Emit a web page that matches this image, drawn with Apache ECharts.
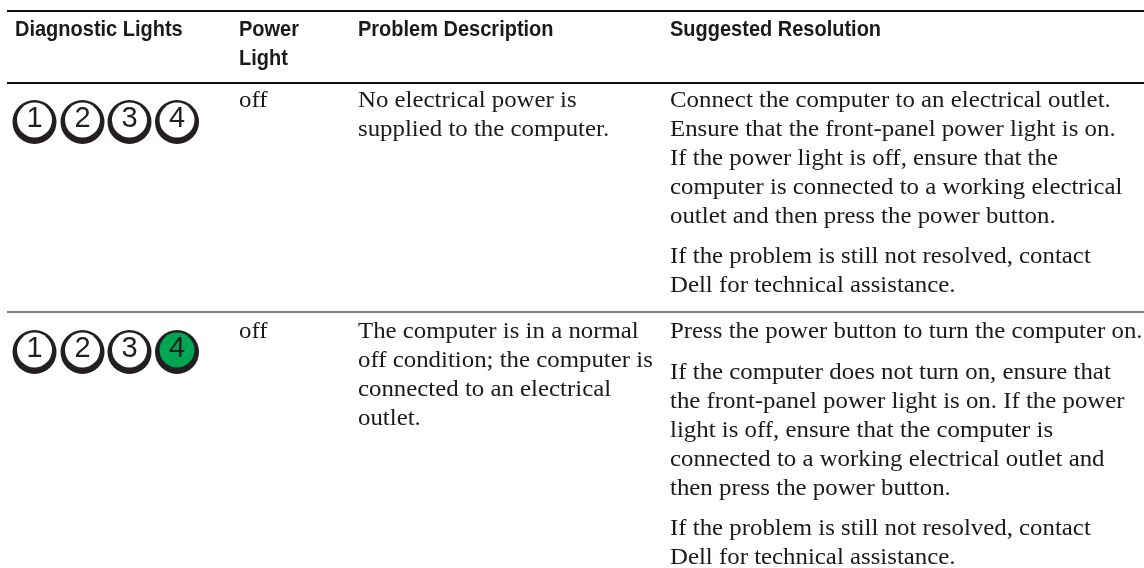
<!DOCTYPE html>
<html><head><meta charset="utf-8">
<style>html,body{margin:0;padding:0;background:#fff}#c{width:1144px;height:568px}</style>
<script src="https://cdn.jsdelivr.net/npm/echarts@6/dist/echarts.min.js"></script>
</head><body><div id="c"></div>
<script>
const headers=[["Diagnostic Lights"],["Power","Light"],["Problem Description"],["Suggested Resolution"]];
const lightNumbers=["1","2","3","4"];
const row1Lit=[0,0,0,0];
const row2Lit=[0,0,0,1];
const powerLight=["off","off"];
const problems=[
 ["No electrical power is","supplied to the computer."],
 ["The computer is in a normal","off condition; the computer is","connected to an electrical","outlet."]];
const resolution1=["Connect the computer to an electrical outlet.","Ensure that the front-panel power light is on.","If the power light is off, ensure that the","computer is connected to a working electrical","outlet and then press the power button."];
const resolution1b=["If the problem is still not resolved, contact","Dell for technical assistance."];
const resolution2=["Press the power button to turn the computer on."];
const resolution2b=["If the computer does not turn on, ensure that","the front-panel power light is on. If the power","light is off, ensure that the computer is","connected to a working electrical outlet and","then press the power button."];
const resolution2c=["If the problem is still not resolved, contact","Dell for technical assistance."];

const colX=[15,239,358,670];
const lightX=[34.5,82.5,129.5,177];
const LH=29;
const BODY='"Liberation Serif"',HEAD='"Liberation Sans"';
const g=[];
function rule(y,w,c){g.push({type:'rect',shape:{x:7,y:y,width:1137,height:w},style:{fill:c}});}
rule(10,2,'#111');rule(82,2,'#111');rule(311,2,'#808080');
function head(t,x,y){g.push({type:'text',x:x,y:y-7,scaleX:0.93,style:{text:t,font:'bold 21.5px '+HEAD,fill:'#1a1a1a',verticalAlign:'middle'}});}
headers.forEach((ls,i)=>ls.forEach((t,j)=>head(t,colX[i],37+j*29)));
function body(lines,x,y){lines.forEach((t,j)=>g.push({type:'text',x:x,y:y+j*LH-7,scaleX:1.08,style:{text:t,font:'23px '+BODY,fill:'#1a1a1a',verticalAlign:'middle'}}));}
body([powerLight[0]],239,108);body([powerLight[1]],239,339);
body(problems[0],358,108);body(problems[1],358,339);
body(resolution1,670,108);body(resolution1b,670,264);
body(resolution2,670,339);body(resolution2b,670,380);body(resolution2c,670,536);
function lights(lit,cy){lit.forEach((on,i)=>{
 const x=lightX[i];
 g.push({type:'circle',shape:{cx:x,cy:cy,r:22},style:{fill:'#231f20'}});
 g.push({type:'circle',shape:{cx:x,cy:cy-2,r:17.5},style:{fill:on?'#00a651':'#fff'}});
 g.push({type:'text',x:x,y:cy-3,style:{text:lightNumbers[i],font:'29px "Liberation Sans"',fill:'#231f20',align:'center',verticalAlign:'middle'}});
});}
lights(row1Lit,122);lights(row2Lit,352);
echarts.init(document.getElementById('c'),null,{renderer:'canvas'}).setOption({animation:false,backgroundColor:'#fff',graphic:{elements:g}});
</script></body></html>
